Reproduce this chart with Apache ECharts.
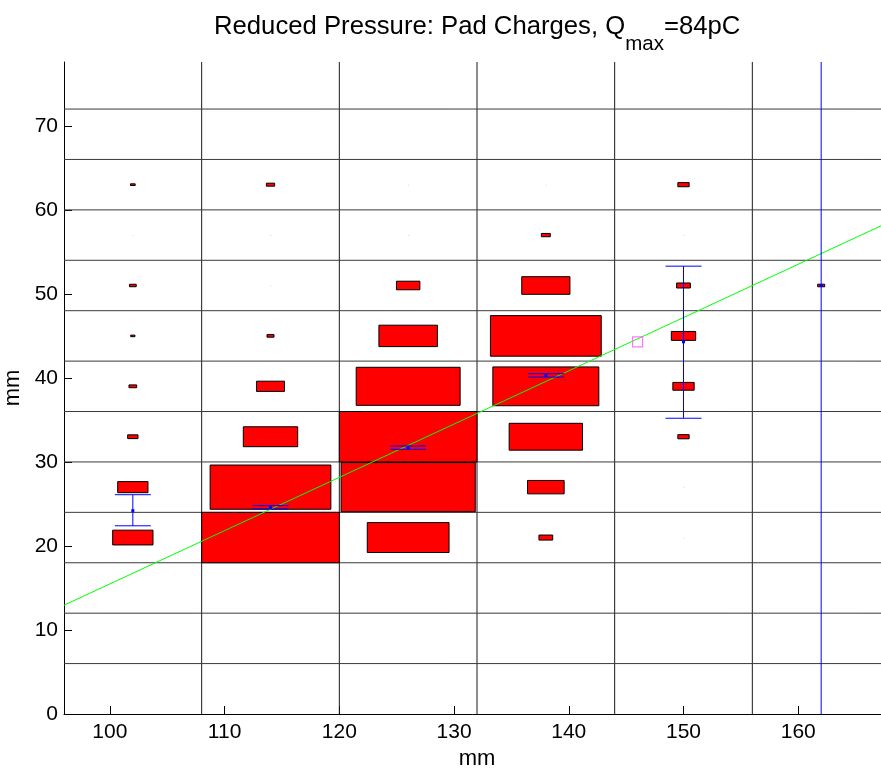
<!DOCTYPE html>
<html><head><meta charset="utf-8">
<script src="https://cdn.jsdelivr.net/npm/echarts@6/dist/echarts.min.js"></script>
<style>html,body{margin:0;padding:0;background:#fff}#c{width:881px;height:768px}</style>
</head><body><div id="c"></div>
<script>
// axis ticks
const xTicks = [100, 110, 120, 130, 140, 150, 160];
const yTicks = [0, 10, 20, 30, 40, 50, 60, 70];
// pad boundaries (mm)
const padEdgesX = [108, 120, 132, 144, 156];
const padEdgesY = [6, 12, 18, 24, 30, 36, 42, 48, 54, 60, 66, 72];
// pad centres
const padColsX = [102, 114, 126, 138, 150, 162];
const padRowsY = [21, 27, 33, 39, 45, 51, 57, 63];
// relative box size (1 = whole pad), one value per row in padRowsY
const size102 = [0.293, 0.220, 0.075, 0.056, 0.031, 0.049, 0.004, 0.034];
const size114 = [1.000, 0.877, 0.395, 0.203, 0.051, 0.004, 0.004, 0.060];
const size126 = [0.594, 0.975, 1.000, 0.755, 0.425, 0.170, 0.004, 0.004];
const size138 = [0.100, 0.266, 0.533, 0.770, 0.805, 0.350, 0.065, 0.004];
const size150 = [0.004, 0.004, 0.082, 0.155, 0.177, 0.100, 0.004, 0.082];
const size162 = [0, 0, 0, 0, 0, 0.051, 0, 0];
// column means with error bars
const errX = [102, 114, 126, 138, 150, 162];
const errMean = [24.2, 24.6, 31.7, 40.3, 44.3, 51.0];
const errLow = [22.4, 24.4, 31.5, 40.1, 35.2, -60];
const errHigh = [26.1, 24.8, 31.9, 40.5, 53.3, 160];
// overall centroid
const centroid = [146.0, 44.3];
// fitted line end points
const fitX = [96, 168];
const fitY = [12.95, 58.6];

const sizeCols = [size102, size114, size126, size138, size150, size162];
const padW = padEdgesX[1] - padEdgesX[0];
const padH = padEdgesY[1] - padEdgesY[0];
const boxData = [];
padColsX.forEach((cx, i) => padRowsY.forEach((cy, j) => {
  if (sizeCols[i][j] > 0) boxData.push([cx, cy, sizeCols[i][j]]);
}));
const errData = errX.map((x, i) => [x, errMean[i], errLow[i], errHigh[i]]);
const FONT = '"Liberation Sans", Arial, Helvetica, sans-serif';

const chart = echarts.init(document.getElementById('c'), null, {renderer: 'canvas'});
chart.setOption({
  animation: false,
  backgroundColor: '#fff',
  title: {
    text: '{a|Reduced Pressure: Pad Charges, Q}{s|max}{a|=84pC}',
    left: 214, top: 14, padding: 0,
    textStyle: {
      fontWeight: 'normal',
      rich: {
        a: {fontFamily: FONT, fontSize: 25.7, fontWeight: 'normal', lineHeight: 27, color: '#000', verticalAlign: 'top'},
        s: {fontFamily: FONT, fontSize: 20.5, fontWeight: 'normal', lineHeight: 20, color: '#000', verticalAlign: 'top', padding: [19.5, 0, 0, 0]}
      }
    }
  },
  grid: {left: 64, right: -9, top: 62, bottom: 54, containLabel: false, outerBoundsMode: 'none'},
  xAxis: {
    type: 'value', min: 96, max: 168,
    name: 'mm', nameLocation: 'middle', nameGap: 32,
    nameTextStyle: {fontFamily: FONT, fontSize: 22, color: '#000'},
    axisLine: {show: true, onZero: false, lineStyle: {color: '#000', width: 1}},
    axisTick: {show: true, inside: true, length: 8, customValues: xTicks, lineStyle: {color: '#000'}},
    axisLabel: {customValues: xTicks, fontFamily: FONT, fontSize: 21, color: '#000', margin: 8},
    splitLine: {show: false}
  },
  yAxis: {
    type: 'value', min: 0, max: 77.6, interval: 10,
    name: 'mm', nameLocation: 'middle', nameGap: 30, nameRotate: 90,
    nameTextStyle: {fontFamily: FONT, fontSize: 22, color: '#000'},
    axisLine: {show: true, onZero: false, lineStyle: {color: '#000', width: 1}},
    axisTick: {show: true, inside: true, length: 8, customValues: yTicks, lineStyle: {color: '#000'}},
    axisLabel: {customValues: yTicks, fontFamily: FONT, fontSize: 21, color: '#000', margin: 6},
    splitLine: {show: false}
  },
  series: [
    {
      type: 'custom', name: 'vlines', silent: true, z: 1,
      data: padEdgesX.map(v => [v]),
      encode: {x: 0},
      renderItem(params, api) {
        const cs = params.coordSys;
        const p = api.coord([api.value(0), 0]);
        return {type: 'line', shape: {x1: p[0], y1: cs.y, x2: p[0], y2: cs.y + cs.height},
          style: {stroke: '#1a1a1a', lineWidth: 1}};
      }
    },
    {
      type: 'custom', name: 'hlines', silent: true, z: 1,
      data: padEdgesY.map(v => [v]),
      encode: {y: 0},
      renderItem(params, api) {
        const cs = params.coordSys;
        const p = api.coord([100, api.value(0)]);
        return {type: 'line', shape: {x1: cs.x, y1: p[1], x2: cs.x + cs.width, y2: p[1]},
          style: {stroke: '#3a3a3a', lineWidth: 1}};
      }
    },
    {
      type: 'custom', name: 'pads', silent: true, z: 2,
      data: boxData,
      encode: {x: 0, y: 1},
      renderItem(params, api) {
        const cx = api.value(0), cy = api.value(1), s = api.value(2);
        const p0 = api.coord([cx - padW / 2 * s, cy + padH / 2 * s]);
        const p1 = api.coord([cx + padW / 2 * s, cy - padH / 2 * s]);
        const w = p1[0] - p0[0], h = p1[1] - p0[1];
        if (w < 2) {
          return {type: 'rect', shape: {x: p0[0], y: p0[1], width: Math.max(w, 1), height: Math.max(h, 1)},
            style: {fill: '#ffc4c4'}};
        }
        return {type: 'rect', shape: {x: p0[0], y: p0[1], width: w, height: h},
          style: {fill: '#ff0000', stroke: '#000', lineWidth: 1}};
      }
    },
    {
      type: 'line', name: 'fit', z: 3, silent: true,
      data: fitX.map((x, i) => [x, fitY[i]]),
      showSymbol: false, symbol: 'none', clip: true,
      lineStyle: {color: '#00ff00', width: 1}
    },
    {
      type: 'custom', name: 'err', silent: true, z: 4,
      data: errData,
      encode: {x: 0, y: 1},
      renderItem(params, api) {
        const cs = params.coordSys;
        const x = api.value(0);
        const pm = api.coord([x, api.value(1)]);
        const pl = api.coord([x, api.value(2)]);
        const ph = api.coord([x, api.value(3)]);
        const top = cs.y, bot = cs.y + cs.height;
        const yh = Math.max(ph[1], top), yl = Math.min(pl[1], bot);
        const cap = 18;
        const st = {stroke: '#0000ff', lineWidth: 1};
        const ch = [{type: 'line', shape: {x1: pm[0], y1: yh, x2: pm[0], y2: yl}, style: st}];
        if (ph[1] >= top) ch.push({type: 'line', shape: {x1: pm[0] - cap, y1: ph[1], x2: pm[0] + cap, y2: ph[1]}, style: st});
        if (pl[1] <= bot) ch.push({type: 'line', shape: {x1: pm[0] - cap, y1: pl[1], x2: pm[0] + cap, y2: pl[1]}, style: st});
        ch.push({type: 'rect', shape: {x: pm[0] - 1.5, y: pm[1] - 1.5, width: 3, height: 3}, style: {fill: '#0000ff'}});
        return {type: 'group', children: ch};
      }
    },
    {
      type: 'scatter', name: 'centroid', z: 5, silent: true,
      data: [centroid],
      symbol: 'rect', symbolSize: 10,
      itemStyle: {color: 'rgba(0,0,0,0)', borderColor: '#ff55ff', borderWidth: 1.2}
    }
  ]
});
</script></body></html>
